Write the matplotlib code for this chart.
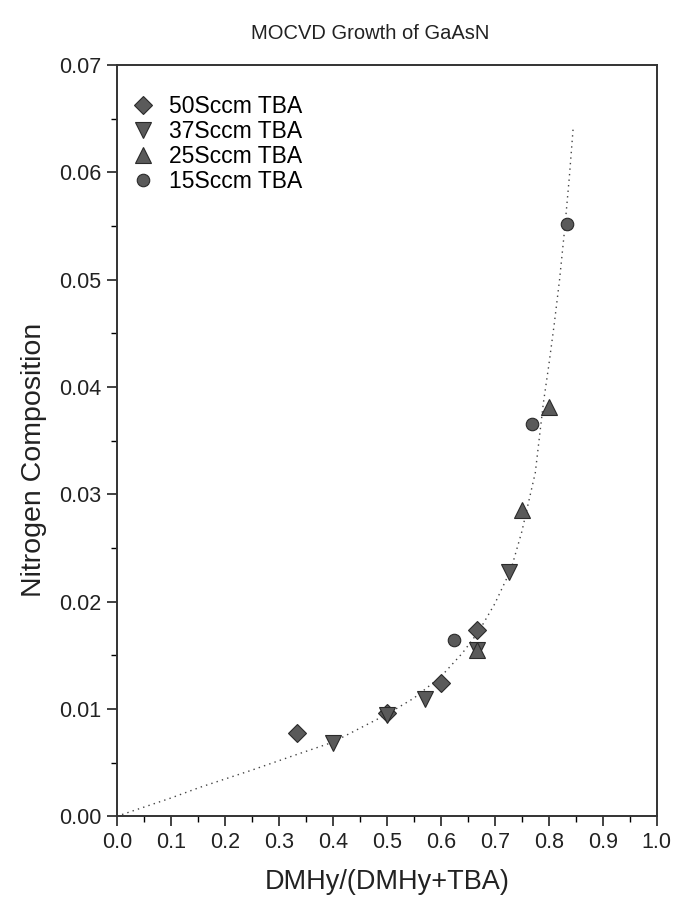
import matplotlib
matplotlib.use('agg')
import matplotlib.pyplot as plt
from matplotlib.ticker import MultipleLocator, FormatStrFormatter

plt.rcParams['font.family'] = ['Liberation Sans', 'DejaVu Sans']

x50 = [0.333, 0.500, 0.600, 0.667]
y50 = [0.0078, 0.0096, 0.0124, 0.0174]

x37 = [0.400, 0.500, 0.571, 0.667, 0.727]
y37 = [0.0068, 0.0094, 0.0109, 0.0155, 0.0228]

x25 = [0.667, 0.750, 0.800]
y25 = [0.0155, 0.0285, 0.0381]

x15 = [0.625, 0.769, 0.833]
y15 = [0.0164, 0.0365, 0.0552]

# fitted curve (dotted)
fit_x = [0.0, 0.10, 0.154, 0.25, 0.33, 0.40, 0.45, 0.50, 0.55, 0.60, 0.64,
         0.67, 0.70, 0.73, 0.75, 0.775, 0.79, 0.80, 0.81, 0.82, 0.83, 0.838, 0.845]
fit_y = [0.0, 0.0017, 0.0027, 0.0043, 0.0057, 0.0069, 0.0082, 0.0095, 0.0110,
         0.0130, 0.0152, 0.0172, 0.0198, 0.0230, 0.0265, 0.0320, 0.0385, 0.0420,
         0.0458, 0.0500, 0.0550, 0.0595, 0.0640]

fig = plt.figure(figsize=(6.75, 9.01), dpi=100)
ax = fig.add_axes([0.173, 0.094, 0.800, 0.834])

ax.plot(fit_x, fit_y, linestyle=(0, (1, 3)), color='#444444', lw=1.0, zorder=1)

mk = dict(linestyle='none', markerfacecolor='#5a5a5a', markeredgecolor='#2a2a2a',
          markeredgewidth=0.8, zorder=3)
ax.plot(x50, y50, marker='D', markersize=9, label='50Sccm TBA', **mk)
ax.plot(x37, y37, marker='v', markersize=12, label='37Sccm TBA', **mk)
ax.plot(x25, y25, marker='^', markersize=12, label='25Sccm TBA', **mk)
ax.plot(x15, y15, marker='o', markersize=9, label='15Sccm TBA', **mk)

ax.set_xlim(0.0, 1.0)
ax.set_ylim(0.0, 0.07)
ax.xaxis.set_major_locator(MultipleLocator(0.1))
ax.xaxis.set_minor_locator(MultipleLocator(0.05))
ax.yaxis.set_major_locator(MultipleLocator(0.01))
ax.yaxis.set_minor_locator(MultipleLocator(0.005))
ax.xaxis.set_major_formatter(FormatStrFormatter('%.1f'))
ax.yaxis.set_major_formatter(FormatStrFormatter('%.2f'))

ax.tick_params(which='major', direction='out', length=7, width=1.2, labelsize=15.5,
               colors='#222222', top=False, right=False, pad=4)
ax.tick_params(which='minor', direction='out', length=4, width=1.0,
               top=False, right=False)
for s in ax.spines.values():
    s.set_linewidth(1.4)
    s.set_color('#333333')

ax.set_xlabel('DMHy/(DMHy+TBA)', fontsize=19.5, color='#222222')
ax.set_ylabel('Nitrogen Composition', fontsize=20.5, color='#222222')
ax.xaxis.set_label_coords(0.5, -0.07)
ax.yaxis.set_label_coords(-0.13, 0.474)
fig.text(0.548, 0.963, 'MOCVD Growth of GaAsN', fontsize=14.5, color='#222222',
         ha='center', va='center')

leg = ax.legend(loc='upper left', frameon=False, fontsize=16.5, handletextpad=0.5,
                labelspacing=0.08, borderaxespad=0.1, handlelength=1.3,
                bbox_to_anchor=(0.0, 0.975))

plt.savefig('out.png', dpi=100)
plt.close(fig)
